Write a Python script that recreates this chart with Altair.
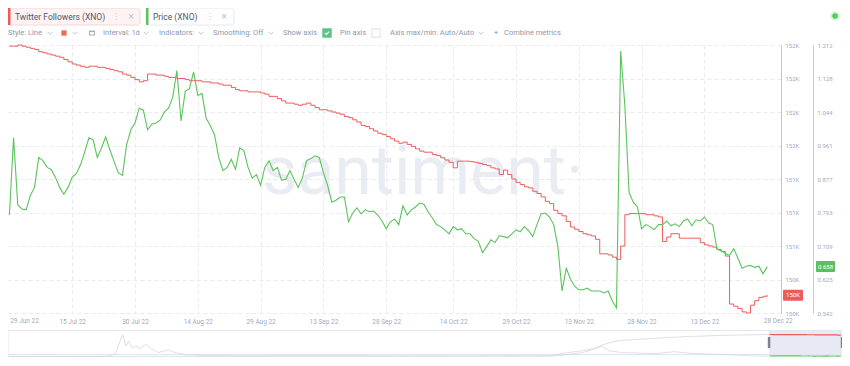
import altair as alt
import pandas as pd

FONT = "Roboto"
RED = "#ef5b5b"
GREEN = "#5cc25c"
AXIS_TXT = "#a3aabd"
GRID = "#e8eaf0"
TOOL_TXT = "#8e97ab"
CHIP_TXT = "#4f5670"

# ---------------- data ----------------
price = [
    0.787, 0.980, 0.812, 0.802, 0.800, 0.836, 0.856, 0.931, 0.923, 0.906,
    0.901, 0.881, 0.856, 0.839, 0.856, 0.881, 0.891, 0.913, 0.945, 0.980,
    0.975, 0.931, 0.955, 0.982, 0.950, 0.921, 0.893, 0.886, 0.963, 1.000,
    1.017, 1.054, 1.049, 1.000, 1.014, 1.017, 1.024, 1.044, 1.054, 1.081,
    1.148, 1.022, 1.096, 1.103, 1.145, 1.086, 1.091, 1.029, 1.010, 0.987,
    0.931, 0.898, 0.906, 0.926, 0.901, 0.955, 0.948, 0.906, 0.879, 0.888,
    0.861, 0.906, 0.923, 0.898, 0.906, 0.874, 0.876, 0.898, 0.876, 0.856,
    0.881, 0.923, 0.928, 0.935, 0.931, 0.893, 0.861, 0.819, 0.824, 0.832,
    0.832, 0.770, 0.792, 0.805, 0.790, 0.800, 0.795, 0.797, 0.787, 0.772,
    0.753, 0.770, 0.777, 0.763, 0.810, 0.787, 0.800, 0.807, 0.817, 0.814,
    0.795, 0.780, 0.763, 0.758, 0.750, 0.740, 0.758, 0.750, 0.753, 0.740,
    0.740, 0.728, 0.721, 0.693, 0.708, 0.725, 0.718, 0.735, 0.733, 0.730,
    0.740, 0.750, 0.745, 0.758, 0.748, 0.733, 0.763, 0.790, 0.792, 0.782,
    0.763, 0.708, 0.597, 0.654, 0.627, 0.609, 0.600, 0.600, 0.604, 0.597,
    0.597, 0.597, 0.592, 0.597, 0.572, 0.555, 1.197, 1.060, 0.844, 0.819,
    0.807, 0.753, 0.763, 0.758, 0.750, 0.763, 0.763, 0.772, 0.760, 0.765,
    0.758, 0.772, 0.777, 0.760, 0.775, 0.772, 0.782, 0.767, 0.763, 0.701,
    0.698, 0.691, 0.686, 0.703, 0.679, 0.654, 0.659, 0.661, 0.656, 0.659,
    0.640, 0.658,
]

followers = [
    152440, 152440, 152450, 152440, 152430, 152420, 152410, 152390, 152380, 152370,
    152360, 152350, 152340, 152320, 152300, 152280, 152270, 152260, 152250, 152260,
    152260, 152250, 152250, 152240, 152230, 152220, 152210, 152190, 152180, 152160,
    152140, 152120, 152130, 152190, 152190, 152180, 152180, 152170, 152160, 152160,
    152150, 152150, 152140, 152130, 152130, 152130, 152120, 152120, 152110, 152110,
    152100, 152090, 152090, 152070, 152050, 152040, 152040, 152030, 152030, 152030,
    152020, 152010, 151990, 151990, 151970, 151950, 151930, 151930, 151920, 151910,
    151920, 151930, 151910, 151890, 151870, 151870, 151860, 151850, 151840, 151830,
    151810, 151800, 151780, 151760, 151730, 151720, 151700, 151680, 151660, 151650,
    151630, 151610, 151590, 151570, 151580, 151560, 151540, 151520, 151500, 151490,
    151490, 151470, 151460, 151440, 151420, 151400, 151350, 151410, 151410, 151410,
    151405, 151400, 151390, 151380, 151370, 151350, 151340, 151290, 151330, 151290,
    151250, 151220, 151200, 151180, 151170, 151140, 151120, 151090, 151050, 151030,
    150970, 150940, 150920, 150870, 150820, 150800, 150780, 150760, 150750, 150740,
    150710, 150580, 150580, 150570, 150550, 150530, 150650, 150930, 150940, 150940,
    150940, 150940, 150930, 150930, 150920, 150910, 150690, 150730, 150760, 150760,
    150720, 150720, 150720, 150720, 150720, 150680, 150660, 150650, 150640, 150620,
    150600, 150560, 150130, 150110, 150090, 150060, 150050, 150120, 150160, 150190,
    150200, 150210,
]

dates = pd.date_range("2022-06-30", periods=len(price), freq="D").strftime("%Y-%m-%dT00:00:00").tolist()

price_ticks = [0.542, 0.625, 0.709, 0.793, 0.877, 0.961, 1.044, 1.128, 1.212]
follower_ticks = [150050, 150350, 150650, 150950, 151250, 151550, 151850, 152150, 152450]
x_tick_days = [(7, 15), (7, 30), (8, 14), (8, 29), (9, 13), (9, 28),
               (10, 14), (10, 29), (11, 13), (11, 28), (12, 13)]
first_label_date = ["2022-06-29T00:00:00"]

nav_price_dates = ["2017-03-17", "2017-11-20", "2017-12-03", "2017-12-16", "2017-12-26",
                   "2018-01-02", "2018-01-10", "2018-01-17", "2018-01-27", "2018-02-04",
                   "2018-02-16", "2018-03-01", "2018-03-13", "2018-04-02", "2018-04-27",
                   "2018-05-14", "2018-06-08", "2018-07-28", "2018-08-27", "2018-10-11",
                   "2019-06-01", "2020-03-01", "2020-10-01", "2021-01-01", "2021-02-03",
                   "2021-03-13", "2021-04-14", "2021-05-01", "2021-05-19", "2021-06-20",
                   "2021-09-15", "2021-10-30", "2021-12-24", "2022-03-09", "2022-05-22",
                   "2022-06-29"]
nav_price = [0.05, 0.3, 1.5, 6.0, 24.0, 33.5, 16.0, 24.0, 13.0, 16.0,
             12.0, 19.0, 13.0, 6.0, 10.0, 6.0, 3.0, 1.5, 1.8, 1.0,
             1.2, 0.6, 0.9, 1.0, 3.0, 6.0, 12.0, 16.0, 9.0, 6.0,
             4.4, 7.4, 4.4, 3.0, 0.9, 0.8]

nav_fol_dates = ["2017-03-17", "2020-12-20", "2021-02-01", "2021-03-13", "2021-04-07",
                 "2021-05-01", "2021-05-26", "2021-06-20", "2021-09-10", "2021-12-04",
                 "2022-02-24", "2022-06-21", "2022-06-29"]
nav_followers = [60000, 62000, 76000, 84000, 92000, 108000, 120000, 128000, 136000,
                 144000, 148500, 152300, 152440]

selection = {"s": ["2022-06-29T00:00:00"], "e": ["2022-12-31T00:00:00"]}

chip_labels = ["Twitter Followers (XNO)", "Price (XNO)"]
toolbar_labels = ["Style: Line", "Interval: 1d", "Indicators:", "Smoothing: Off",
                  "Show axis", "Pin axis", "Axis max/min: Auto/Auto", "Combine metrics"]
watermark = "santiment·"

# ---------------- frames ----------------
df = pd.DataFrame({"date": dates, "price": price, "followers": followers})
last_df = df.tail(1)
first_df = pd.DataFrame({"date": first_label_date})
nav_p_df = pd.DataFrame({"date": [d + "T00:00:00" for d in nav_price_dates], "v": nav_price})
nav_f_df = pd.DataFrame({"date": [d + "T00:00:00" for d in nav_fol_dates], "v": nav_followers})
sel_df = pd.DataFrame(selection)
sel_edges = pd.DataFrame({"d": selection["s"] + selection["e"]})
one = pd.DataFrame({"k": [0]})

W, H = 773, 268

xmain = alt.Scale(domain=[alt.DateTime(year=2022, month=6, date=29, hours=16),
                          alt.DateTime(year=2022, month=12, date=31, hours=7)])
yprice = alt.Scale(domain=[0.542, 1.212], nice=False, zero=False)
yfol = alt.Scale(domain=[150050, 152450], nice=False, zero=False)
navx = alt.Scale(domain=[alt.DateTime(year=2017, month=3, date=17),
                         alt.DateTime(year=2022, month=12, date=31)], range=[0, 834])
nav_yp = alt.Scale(domain=[0, 34], range=[311.5, 289.5], nice=False, zero=False)
nav_yf = alt.Scale(domain=[60000, 152500], range=[311.5, 289.5], nice=False, zero=False)


def txt(s, x, y, size=7.5, color=TOOL_TXT, align="left", font=FONT, baseline="middle"):
    return alt.Chart(pd.DataFrame({"t": [s]})).mark_text(
        align=align, baseline=baseline, fontSize=size, color=color, font=font
    ).encode(x=alt.value(x), y=alt.value(y), text="t:N")


def box(x, x2, y, y2, fill, stroke=None, r=0, sw=1):
    kw = dict(fill=fill, cornerRadius=r)
    if stroke:
        kw.update(stroke=stroke, strokeWidth=sw)
    return alt.Chart(one).mark_rect(**kw).encode(
        x=alt.value(x), x2=alt.value(x2), y=alt.value(y), y2=alt.value(y2))


def sym(shape, x, y, size, color, filled=False, sw=1.0, opacity=1.0):
    return alt.Chart(one).mark_point(
        shape=shape, size=size, filled=filled, color=color, strokeWidth=sw, opacity=opacity
    ).encode(x=alt.value(x), y=alt.value(y))


layers = []

# watermark
layers.append(txt(watermark, 415, 149, size=68, color="#e9ecf3", align="center",
                  baseline="alphabetic"))

# followers line (red axis + grid)
fol_axis = alt.Axis(orient="right", values=follower_ticks,
                    labelExpr="format(datum.value / 1000, '.0f') + 'K'",
                    grid=True, gridDash=[4, 3], gridColor=GRID, gridWidth=1,
                    domainColor="#efb3b3", domainWidth=1, ticks=False, labelPadding=4,
                    labelFontSize=6, labelColor=AXIS_TXT, labelFont=FONT, title=None,
                    labelFlush=False, labelOverlap=False)
layers.append(alt.Chart(df).mark_line(interpolate="step-after", color=RED, strokeWidth=1).encode(
    x=alt.X("date:T", scale=xmain, axis=None),
    y=alt.Y("followers:Q", scale=yfol, axis=fol_axis)))

# price line (green axis + x axis)
price_axis = alt.Axis(orient="right", offset=32, values=price_ticks, format=".3f", grid=False,
                      domainColor="#acdfac", domainWidth=1, ticks=False, labelPadding=4,
                      labelFontSize=6, labelColor=AXIS_TXT, labelFont=FONT, title=None,
                      labelFlush=False, labelOverlap=False)
x_axis = alt.Axis(values=[alt.DateTime(year=2022, month=m, date=d) for m, d in x_tick_days],
                  format="%d %b %y", labelFontSize=6.5, labelColor=AXIS_TXT, labelFont=FONT,
                  domain=False, ticks=False, grid=True, gridDash=[4, 3], gridColor=GRID,
                  labelPadding=5, labelFlush=False, labelOverlap=False, title=None)
layers.append(alt.Chart(df).mark_line(color=GREEN, strokeWidth=1.1).encode(
    x=alt.X("date:T", scale=xmain, axis=x_axis),
    y=alt.Y("price:Q", scale=yprice, axis=price_axis)))

# first / last date labels of the time axis
layers.append(alt.Chart(first_df).transform_calculate(
    lbl="timeFormat(toDate(datum.date), '%d %b %y')").mark_text(
    align="left", baseline="top", fontSize=6.5, color=AXIS_TXT, font=FONT, dx=5).encode(
    x=alt.X("date:T", scale=xmain, axis=None), y=alt.value(H + 5), text="lbl:N"))
layers.append(alt.Chart(last_df).transform_calculate(
    lbl="timeFormat(toDate(datum.date), '%d %b %y')").mark_text(
    align="center", baseline="top", fontSize=6.5, color=AXIS_TXT, font=FONT, dx=11).encode(
    x=alt.X("date:T", scale=xmain, axis=None), y=alt.value(H + 5), text="lbl:N"))

# badges
layers.append(alt.Chart(last_df).mark_rect(height=11, color=RED, cornerRadius=1).encode(
    x=alt.value(775), x2=alt.value(795), y=alt.Y("followers:Q", scale=yfol, axis=None)))
layers.append(alt.Chart(last_df).transform_calculate(
    lbl="format(datum.followers / 1000, '.0f') + 'K'").mark_text(
    align="center", baseline="middle", fontSize=6, color="white", font=FONT).encode(
    x=alt.value(785), y=alt.Y("followers:Q", scale=yfol, axis=None), text="lbl:N"))
layers.append(alt.Chart(last_df).mark_rect(height=11, color="#5bbf62", cornerRadius=1).encode(
    x=alt.value(808), x2=alt.value(827), y=alt.Y("price:Q", scale=yprice, axis=None)))
layers.append(alt.Chart(last_df).mark_text(
    align="center", baseline="middle", fontSize=6, color="white", font=FONT).encode(
    x=alt.value(817.5), y=alt.Y("price:Q", scale=yprice, axis=None),
    text=alt.Text("price:Q", format=".3f")))

# header chips
CY = -28.5
layers.append(box(0, 132, -37, -20, "#fdf3f3", stroke="#f6d6d6", r=3))
layers.append(box(0, 2.5, -37, -20, RED))
layers.append(txt(chip_labels[0], 7, CY, size=8.5, color=CHIP_TXT))
layers.append(txt("⋮", 108, CY, size=8, color="#c3c8d4", align="center", font="DejaVu Sans"))
layers.append(txt("×", 123, CY, size=8, color="#aeb5c4", align="center", font="DejaVu Sans"))
layers.append(box(138, 226, -37, -20, "#ffffff", stroke="#e6e8ef", r=3))
layers.append(box(138, 140.5, -37, -20, GREEN))
layers.append(txt(chip_labels[1], 145, CY, size=8.5, color=CHIP_TXT))
layers.append(txt("⋮", 202, CY, size=8, color="#c3c8d4", align="center", font="DejaVu Sans"))
layers.append(txt("×", 216, CY, size=8, color="#aeb5c4", align="center", font="DejaVu Sans"))
layers.append(sym("circle", 827, -29, 90, "#5fd35f", filled=True, opacity=0.25))
layers.append(sym("circle", 827, -29, 30, "#56cc56", filled=True))

# toolbar
TY = -12
for lbl, x in zip(toolbar_labels, [0, 95, 151, 205, 275, 332, 382, 496]):
    layers.append(txt(lbl, x, TY, size=7.5))
CHEV = "M-1,-0.5L0,0.5L1,-0.5"
for x in [42, 67, 138, 193, 263, 473]:
    layers.append(sym(CHEV, x, TY, 22, "#b3b9c8", sw=0.8))
layers.append(sym("square", 56, TY, 28, "#ef6a5a", filled=True))
layers.append(sym("M-1,-0.8H1V0.8H-1Z M-0.55,-0.8V-0.35 M0,-0.8V-0.35 M0.55,-0.8V-0.35",
                  84, TY, 25, "#8e97ab", sw=0.8))
layers.append(sym("square", 319, TY, 90, "#5cc585", filled=True))
layers.append(sym("M-0.5,0L-0.15,0.35L0.5,-0.35", 319, TY, 70, "#ffffff", sw=1.2))
layers.append(sym("square", 368, TY, 70, "#d5d9e3", sw=0.8))
layers.append(txt("+", 488, TY, size=8, color=TOOL_TXT, align="center"))

# navigator
layers.append(box(0, 834, 285.5, 309.5, "#ffffff", stroke="#e3e6ee"))
layers.append(alt.Chart(sel_df).mark_rect(fill="#e7eaf2").encode(
    x=alt.X("s:T", scale=navx, axis=None), x2="e:T",
    y=alt.value(286), y2=alt.value(309)))
layers.append(alt.Chart(nav_p_df).mark_line(color="#d3d7df", strokeWidth=0.8).encode(
    x=alt.X("date:T", scale=navx, axis=None), y=alt.Y("v:Q", scale=nav_yp, axis=None)))
layers.append(alt.Chart(nav_f_df).mark_line(color="#d3d7df", strokeWidth=0.8).encode(
    x=alt.X("date:T", scale=navx, axis=None), y=alt.Y("v:Q", scale=nav_yf, axis=None)))
layers.append(alt.Chart(df).mark_line(color=RED, strokeWidth=1.2).encode(
    x=alt.X("date:T", scale=navx, axis=None), y=alt.Y("followers:Q", scale=nav_yf, axis=None)))
layers.append(alt.Chart(df).mark_line(color=GREEN, strokeWidth=1.2).encode(
    x=alt.X("date:T", scale=navx, axis=None), y=alt.Y("price:Q", scale=nav_yp, axis=None)))
layers.append(alt.Chart(sel_edges).mark_rule(color="#7b8294", strokeWidth=2.5).encode(
    x=alt.X("d:T", scale=navx, axis=None), y=alt.value(292), y2=alt.value(303)))

chart = alt.layer(*layers).resolve_scale(x="independent", y="independent").properties(
    width=W, height=H,
    padding={"left": 0, "top": 37, "right": 61, "bottom": 45},
    autosize=alt.AutoSizeParams(type="none"),
).configure_view(strokeWidth=0)

chart.save("out.html", embed_options={"renderer": "svg", "actions": False})
